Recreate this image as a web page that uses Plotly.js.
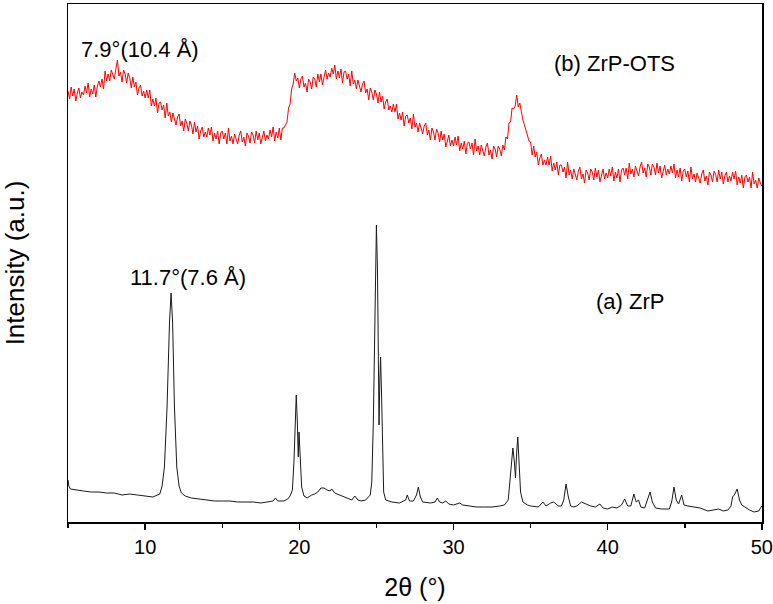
<!DOCTYPE html>
<html>
<head>
<meta charset="utf-8">
<script src="https://cdn.plot.ly/plotly-3.0.1.min.js"></script>
<style>html,body{margin:0;padding:0;background:#fff;}#chart{width:773px;height:604px;}</style>
</head>
<body>
<div id="chart"></div>
<script>
// (b) ZrP-OTS, sampled every 0.1 deg starting at 5.0 deg (intensity, a.u.)
const otsStart = 5.0;
const otsStep = 0.1;
const otsIntensity = [
  431,423,435,426,433,421,429,434,424,430,
  427,436,429,439,425,433,428,437,425,436,
  441,435,443,433,451,441,448,441,452,448,
  443,453,462,446,450,440,452,448,439,449,
  444,434,445,435,440,427,434,437,426,431,
  424,432,424,432,416,423,416,424,409,419,
  420,412,417,404,419,406,410,400,409,403,
  397,405,408,396,401,391,403,399,391,401,
  397,388,400,390,396,383,391,395,385,390,
  385,394,387,395,381,389,383,391,378,389,
  391,383,389,378,394,381,386,378,388,383,
  378,387,391,380,385,376,389,386,379,390,
  387,379,391,382,389,378,386,391,381,387,
  383,392,385,395,381,390,384,394,382,394,
  394,397,400,414,418,433,438,449,441,444,
  434,443,446,435,439,430,443,440,433,445,
  443,435,448,440,448,437,446,452,443,449,
  445,454,448,457,443,451,444,453,439,450,
  451,443,448,436,451,438,442,433,442,436,
  430,438,441,429,433,422,434,430,422,432,
  428,419,430,420,426,413,420,423,412,416,
  410,418,410,418,403,409,402,410,396,406,
  407,399,404,393,408,395,399,390,399,394,
  388,396,399,387,392,382,394,390,382,393,
  389,380,391,382,388,375,382,387,376,382,
  376,385,377,386,371,379,373,381,368,379,
  380,373,379,367,383,371,376,367,377,372,
  366,375,379,367,372,363,376,373,365,376,
  373,366,377,372,385,383,399,400,414,413,
  416,427,415,419,408,402,397,391,386,381,
  380,367,376,365,370,357,364,368,357,362,
  357,365,357,366,351,359,352,360,347,357,
  357,350,355,344,360,347,352,343,353,348,
  342,351,355,343,348,339,352,349,342,353,
  350,342,354,345,352,340,348,353,343,349,
  344,353,346,355,341,350,344,353,340,352,
  354,347,354,343,359,348,353,345,356,351,
  346,355,360,349,354,345,358,355,347,358,
  355,347,359,349,356,344,352,357,347,353,
  348,356,349,358,344,352,345,354,341,351,
  353,345,351,340,355,343,348,340,349,344,
  339,348,352,341,346,337,350,347,340,351,
  348,340,352,343,350,338,346,350,340,346,
  341,350,343,351,337,345,339,347,334,345,
  347,340,345,334,350,338,342,334,344,339,
  336
];

// (a) ZrP
const zrpAngle = [
  5.0,5.05,5.15,5.5,6.0,6.5,7.0,7.5,8.0,8.5,9.0,9.5,10.0,10.5,10.95,11.1,11.25,11.42,11.58,11.68,11.78,11.9,12.05,12.2,12.35,
  12.6,13.0,13.5,14.0,14.5,15.0,15.5,16.0,16.5,17.0,17.5,18.0,18.3,18.45,18.6,19.0,19.25,19.4,19.55,19.65,19.72,19.8,19.87,19.93,19.98,20.05,20.15,20.3,
  20.5,20.8,21.0,21.2,21.4,21.6,21.8,22.0,22.1,22.3,22.6,23.0,23.4,23.6,23.8,24.0,24.3,24.6,24.7,24.8,24.87,24.93,25.0,25.07,25.12,25.17,25.22,25.27,25.33,25.4,25.47,25.6,
  25.8,26.0,26.5,26.9,27.0,27.15,27.4,27.6,27.72,27.85,28.0,28.5,28.8,28.95,29.1,29.3,29.5,29.7,30.0,30.4,30.6,31.0,31.5,32.0,32.5,33.0,33.3,33.55,33.7,33.85,33.95,34.02,34.1,34.17,34.25,34.35,34.5,34.8,
  35.0,35.5,35.8,36.0,36.3,36.5,36.8,37.0,37.15,37.3,37.45,37.6,37.8,38.0,38.3,38.6,38.9,39.2,39.5,39.7,40.0,40.3,40.6,40.9,41.1,41.3,41.5,41.7,41.85,42.0,42.15,42.4,42.6,42.75,42.9,43.1,43.5,44.0,
  44.15,44.3,44.45,44.6,44.8,44.95,45.2,45.5,46.0,46.5,47.0,47.2,47.5,47.8,48.0,48.1,48.25,48.4,48.55,48.7,48.9,49.2,49.5,49.8,49.95,50.0
];
const zrpIntensity = [
  42,36,33,32,31,30,30,29,29,27,28,27,26,25,28,36,55,115,200,229,200,115,55,36,29,
  26,24,23,22,21,21,21,20,20,20,19,20,21,24,21,21,23,26,32,60,100,127,100,65,90,70,35,26,
  24,27,28,30,34,34,32,31,33,29,27,24,22,26,22,21,22,27,40,100,170,250,297,250,150,97,140,165,130,60,30,22,
  21,20,19,22,27,21,21,27,35,25,20,19,20,24,20,19,21,18,17,19,17,16,15,15,15,16,17,22,45,74,60,44,70,85,60,30,20,17,
  16,15,20,16,19,20,16,16,22,38,25,16,15,16,20,18,16,15,18,14,13,15,14,17,23,16,16,28,20,22,15,14,22,30,20,14,13,13,
  20,35,22,18,27,17,16,15,14,11,12,13,11,12,16,25,28,33,22,17,15,12,10,11,15,16
];

const xTickVals = [10, 20, 30, 40, 50];
const xTickText = ['10', '20', '30', '40', '50'];

const labels = [
  {text: '7.9°(10.4 Å)', x: 9.69, y: 473},
  {text: '11.7°(7.6 Å)', x: 12.78, y: 245},
  {text: '(b) ZrP-OTS', x: 40.41, y: 459},
  {text: '(a) ZrP', x: 41.44, y: 221}
];

const FONT = 'Liberation Sans, Arial, Helvetica, sans-serif';

const traces = [
  {
    type: 'scatter', mode: 'lines',
    x0: otsStart, dx: otsStep, y: otsIntensity,
    line: {color: '#ff0000', width: 1},
    hoverinfo: 'skip', showlegend: false
  },
  {
    type: 'scatter', mode: 'lines',
    x: zrpAngle, y: zrpIntensity,
    line: {color: '#1a1a1a', width: 1},
    hoverinfo: 'skip', showlegend: false
  }
];

const layout = {
  width: 773, height: 604,
  margin: {l: 68, r: 11, t: 4, b: 82},
  paper_bgcolor: '#ffffff', plot_bgcolor: '#ffffff',
  font: {family: FONT, color: '#000000', size: 20},
  showlegend: false,
  xaxis: {
    range: [4.995, 50.01],
    tickmode: 'array', tickvals: xTickVals, ticktext: xTickText,
    ticks: 'outside', ticklen: 6, tickwidth: 1.5, tickcolor: '#000',
    ticklabeloverflow: 'allow',
    minor: {dtick: 5, tick0: 5, ticks: 'outside', ticklen: 4, tickwidth: 1.5, tickcolor: '#000', showgrid: false},
    showline: true, linecolor: '#000', linewidth: 1.5, mirror: true,
    showgrid: false, zeroline: false,
    tickfont: {family: FONT, size: 20, color: '#000'},
    title: {text: '2θ (°)', font: {family: FONT, size: 25, color: '#000'}, standoff: 22}
  },
  yaxis: {
    range: [0, 518],
    showticklabels: false, ticks: '',
    showline: true, linecolor: '#000', linewidth: 1.5, mirror: true,
    showgrid: false, zeroline: false,
    title: {text: 'Intensity (a.u.)', font: {family: FONT, size: 26, color: '#000'}, standoff: 47}
  },
  annotations: labels.map(l => ({
    text: l.text, x: l.x, y: l.y, xref: 'x', yref: 'y',
    showarrow: false, xanchor: 'center', yanchor: 'middle',
    font: {family: FONT, size: 22, color: '#000'}
  }))
};

Plotly.newPlot('chart', traces, layout, {displayModeBar: false, staticPlot: true});
</script>
</body>
</html>
